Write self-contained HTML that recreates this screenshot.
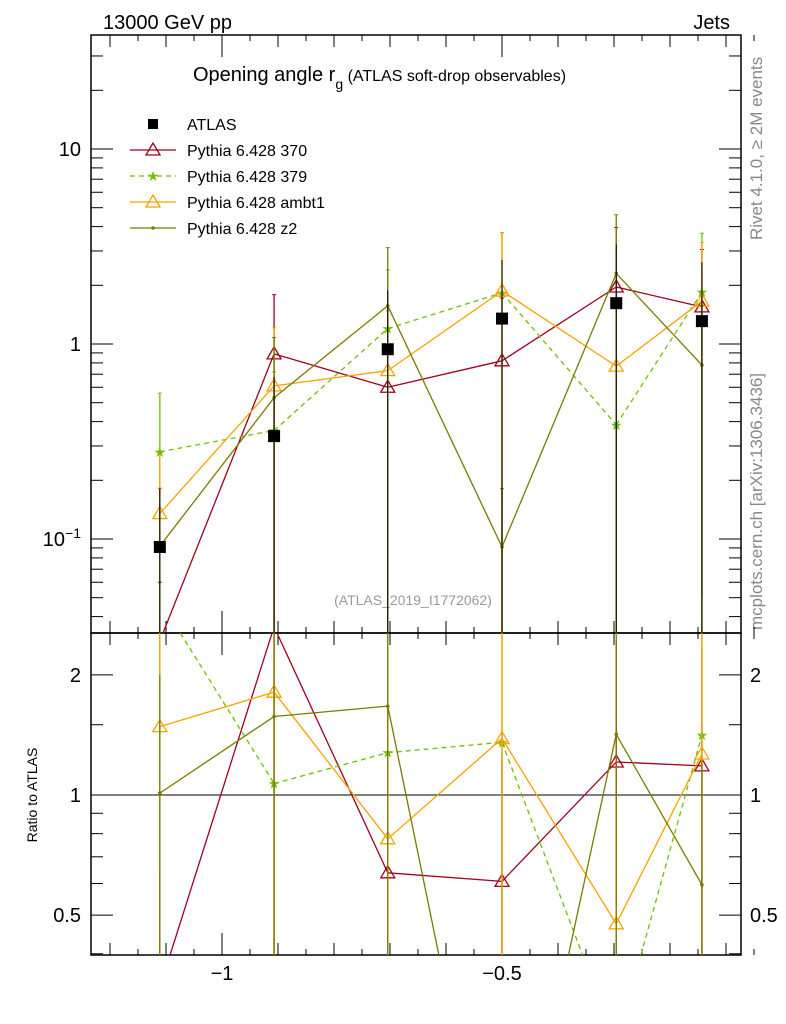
<!DOCTYPE html>
<html><head><meta charset="utf-8"><style>
html,body{margin:0;background:#fff;overflow:hidden}
svg{display:block}
svg text{font-family:"Liberation Sans",sans-serif}
</style></head><body>
<svg id="c" width="786" height="1024" viewBox="0 0 786 1024" xmlns="http://www.w3.org/2000/svg">
<text x="103" y="29" font-size="20">13000 GeV pp</text>
<text x="730" y="29" font-size="20" text-anchor="end">Jets</text>
<text x="193" y="81" font-size="20">Opening angle r<tspan font-size="14" dy="8">g</tspan><tspan font-size="16" dy="-8"> (ATLAS soft-drop observables)</tspan></text>
<text x="413" y="605" font-size="14" fill="#999" text-anchor="middle">(ATLAS_2019_I1772062)</text>
<text transform="translate(762,240) rotate(-90)" font-size="17" fill="#888">Rivet 4.1.0, ≥ 2M events</text>
<text transform="translate(762,630) rotate(-90)" font-size="17" fill="#888">mcplots.cern.ch [arXiv:1306.3436]</text>
<text transform="translate(37,795) rotate(-90)" font-size="14" text-anchor="middle">Ratio to ATLAS</text>
<g id="g"></g>
</svg>
<script>
const xs=[-1.111,-0.907,-0.704,-0.5,-0.296,-0.143];
const atlas=[0.091,0.337,0.94,1.35,1.62,1.31];
const s370=[0.03,0.89,0.6,0.82,1.96,1.55];
const e370=[0.03,0.9,0.6,0.9,2.0,1.5];
const s379=[0.28,0.36,1.2,1.83,0.385,1.85];
const e379=[0.28,0.36,1.2,1.9,0.4,1.85];
const sambt1=[0.135,0.61,0.73,1.87,0.77,1.66];
const eambt1=[0.135,0.6,0.75,1.85,0.8,1.66];
const sz2=[0.092,0.53,1.57,0.091,2.3,0.78];
const ez2=[0.09,0.55,1.55,0.09,2.3,0.8];
const eatlas=[0.09,0.34,0.94,1.35,1.62,1.31];
const NS="http://www.w3.org/2000/svg";
const G=document.getElementById('g');
const L=91,R=741,T=35,M=633,B=955;
const X=v=>222+(v+1)*560;
const Y=v=>344-Math.log10(v)*195;
const YR=v=>795-Math.log10(v)*399;
const cl=(y,a,b)=>Math.max(a,Math.min(b,y));
function el(t,a,n,p){const e=document.createElementNS(NS,t);for(const k in a)e.setAttribute(k,a[k]);(p||G).appendChild(e);return e;}
function clipSegs(pts,y0,y1){const out=[];for(let i=0;i<pts.length-1;i++){let [xa,ya]=pts[i],[xb,yb]=pts[i+1];
 if((ya<y0&&yb<y0)||(ya>y1&&yb>y1))continue;
 const f=y=>xa+(xb-xa)*(y-ya)/(yb-ya);
 if(ya<y0){xa=f(y0);ya=y0;}else if(ya>y1){xa=f(y1);ya=y1;}
 if(yb<y0){xb=xa+(xb-xa)*0;}
 let [px,py]=pts[i+1];const g=y=>pts[i][0]+(px-pts[i][0])*(y-pts[i][1])/(py-pts[i][1]);
 if(py<y0){xb=g(y0);yb=y0;}else if(py>y1){xb=g(y1);yb=y1;}
 out.push([xa,ya,xb,yb]);}return out;}
const clipD=el('defs',{},'defs');
const c1=el('clipPath',{id:'c1'},'clip-main',clipD);el('rect',{x:L,y:T,width:R-L,height:M-T},'clip-rect',c1);
const c2=el('clipPath',{id:'c2'},'clip-ratio',clipD);el('rect',{x:L,y:M,width:R-L,height:B-M},'clip-rect',c2);
el('rect',{x:L,y:T,width:R-L,height:M-T,fill:'none',stroke:'#000','stroke-width':1.5},'main-frame');
el('rect',{x:L,y:M,width:R-L,height:B-M,fill:'none',stroke:'#000','stroke-width':1.5},'ratio-frame');
for(let d=-2;d<=1;d++)for(let m=1;m<10;m++){const v=m*Math.pow(10,d),y=Y(v);if(y<T||y>M)continue;const len=m==1?22:12;
el('line',{x1:L,x2:L+len,y1:y,y2:y,stroke:'#000'},'y-tick');el('line',{x1:R,x2:R-len,y1:y,y2:y,stroke:'#000'},'y-tick');}
el('text',{x:81,y:156,'font-size':20,'text-anchor':'end'},'y-tick-label').textContent='10';
el('text',{x:81,y:351,'font-size':20,'text-anchor':'end'},'y-tick-label').textContent='1';
const t3=el('text',{x:81,y:546,'font-size':20,'text-anchor':'end'},'y-tick-label');t3.innerHTML='10<tspan font-size="14" dy="-8">−1</tspan>';
[0.4,0.5,0.6,0.7,0.8,0.9,1,1.5,2].forEach(v=>{const y=YR(v);const maj=(v==0.5||v==1||v==2);const len=maj?22:12;
el('line',{x1:L,x2:L+len,y1:y,y2:y,stroke:'#000'},'ratio-y-tick');el('line',{x1:R,x2:R-len,y1:y,y2:y,stroke:'#000'},'ratio-y-tick');
if(maj){const lb=v==0.5?'0.5':String(v);el('text',{x:81,y:y+7,'font-size':20,'text-anchor':'end'},'ratio-y-tick-label').textContent=lb;
el('text',{x:750,y:y+7,'font-size':20},'ratio-y-tick-label-right').textContent=lb;}});
for(let i=-12;i<=-1;i++){const v=i/10,x=X(v);const maj=(i==-10||i==-5);const len=maj?22:12;
[[M,M-len],[T,T+len],[B,B-len],[M,M+len]].forEach(p=>el('line',{x1:x,x2:x,y1:p[0],y2:p[1],stroke:'#000'},'x-tick'));}
for(let i=-24;i<=-1;i++){const v=i/20;if(i%2==0)continue;const x=X(v);[[M,M-6],[T,T+6],[B,B-6],[M,M+6]].forEach(p=>el('line',{x1:x,x2:x,y1:p[0],y2:p[1],stroke:'#000'},'x-minor-tick'));}
el('text',{x:X(-1),y:980,'font-size':20,'text-anchor':'middle'},'x-tick-label').textContent='−1';
el('text',{x:X(-0.5),y:980,'font-size':20,'text-anchor':'middle'},'x-tick-label').textContent='−0.5';
el('line',{x1:L,x2:R,y1:YR(1),y2:YR(1),stroke:'#000'},'ratio-unity-line');
const gm=el('g',{'clip-path':'url(#c1)'},'main-plot-area');
const gr=el('g',{'clip-path':'url(#c2)'},'ratio-plot-area');
function marker(p,x,y,type,col,name){
 if(y<0||y>1000)return;
 if(type=='tri')el('path',{d:`M${x},${y-7}L${x+7},${y+5}L${x-7},${y+5}Z`,fill:'none',stroke:col,'stroke-width':1.3},name,p);
 else if(type=='star')el('text',{x:x,y:y+5,'font-size':14,'text-anchor':'middle',fill:col},name,p).textContent='★';
 else if(type=='dot')el('circle',{cx:x,cy:y,r:1.8,fill:col},name,p);
 else el('rect',{x:x-6,y:y-6,width:12,height:12,fill:col},name,p);}
const series=[[s370,e370,'#a0001e','tri','',"370"],[s379,e379,'#6cc000','star','5,4',"379"],[sambt1,eambt1,'#f5a300','tri','',"ambt1"],[sz2,ez2,'#7a7a00','dot','',"z2"]];
series.forEach(([s,e,col,mk,da,nm])=>{
 clipSegs(s.map((v,i)=>[X(xs[i]),Y(v)]),T,M).forEach(q=>el('line',{x1:q[0],y1:q[1],x2:q[2],y2:q[3],stroke:col,'stroke-width':1.3,'stroke-dasharray':da},'line-'+nm,gm));
 clipSegs(s.map((v,i)=>[X(xs[i]),YR(v/atlas[i])]),M,B).forEach(q=>el('line',{x1:q[0],y1:q[1],x2:q[2],y2:q[3],stroke:col,'stroke-width':1.3,'stroke-dasharray':da},'ratio-line-'+nm,gr));
 s.forEach((v,i)=>{const x=X(xs[i]);
  const lo=v-e[i]>0.001?cl(Y(v-e[i]),T,M):M;
  el('line',{x1:x,x2:x,y1:cl(Y(v+e[i]),T,M),y2:lo,stroke:col,'stroke-width':1.3},'errorbar-'+nm,gm);
  el('line',{x1:x-2,x2:x+2,y1:Y(v+e[i]),y2:Y(v+e[i]),stroke:col},'errorcap-'+nm,gm);
  marker(gm,x,Y(v),mk,col,'point-'+nm);
  const r=v/atlas[i],re=e[i]/atlas[i];
  el('line',{x1:x,x2:x,y1:cl(YR(r+re),M,B),y2:r-re>0.01?cl(YR(r-re),M,B):B,stroke:col,'stroke-width':1.3},'ratio-errorbar-'+nm,gr);
  marker(gr,x,YR(r),mk,col,'ratio-point-'+nm);});
});
atlas.forEach((v,i)=>{const x=X(xs[i]);el('line',{x1:x,x2:x,y1:Y(v+eatlas[i]),y2:M,stroke:'#000','stroke-width':1},'atlas-errorbar',gm);marker(gm,x,Y(v),'sq','#000','atlas-point');});
const lg=el('g',{},'legend');
const ents=[['ATLAS','#000','sq',''],['Pythia 6.428 370','#a0001e','tri',''],['Pythia 6.428 379','#6cc000','star','5,4'],['Pythia 6.428 ambt1','#f5a300','tri',''],['Pythia 6.428 z2','#7a7a00','dot','']];
ents.forEach(([t,col,mk,da],i)=>{const y=124+i*26;const g=el('g',{},'legend-entry',lg);
 if(i>0)el('line',{x1:130,x2:176,y1:y,y2:y,stroke:col,'stroke-width':1.3,'stroke-dasharray':da},'legend-line',g);
 if(mk=='sq')el('rect',{x:148,y:y-5,width:10,height:10,fill:'#000'},'legend-marker',g);else marker(g,153,y,mk,col,'legend-marker');
 el('text',{x:187,y:y+6,'font-size':16},'legend-label',g).textContent=t;});
</script>
</body></html>
